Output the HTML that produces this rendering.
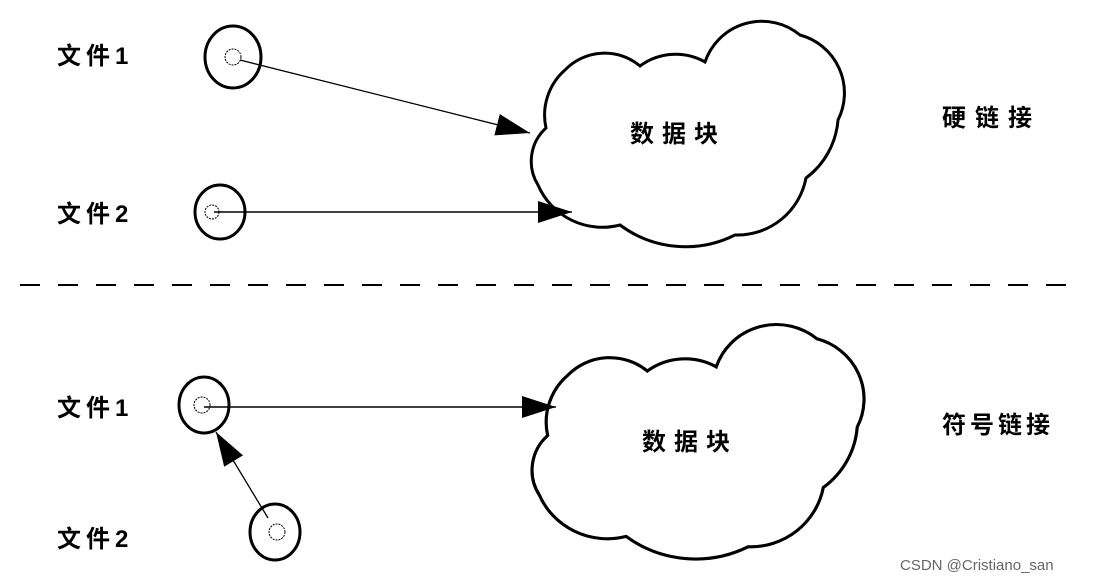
<!DOCTYPE html>
<html><head><meta charset="utf-8"><style>
html,body{margin:0;padding:0;background:#fff;}
svg{display:block;}
text{font-family:"Liberation Sans","WenQuanYi Zen Hei","Noto Sans CJK SC",sans-serif;font-weight:bold;fill:#000;}
</style></head><body>
<svg width="1099" height="582" viewBox="0 0 1099 582" xmlns="http://www.w3.org/2000/svg">
<defs>
<marker id="ar" markerWidth="34" markerHeight="22" refX="34" refY="11" orient="auto" markerUnits="userSpaceOnUse">
<path d="M0,0 L34,11 L0,22 Z" fill="#000"/>
</marker>
<path id="cloud" d="M546,128 A60,60 0 0 1 565,70 A55,55 0 0 1 640,66 A60,60 0 0 1 705,62 A60,60 0 0 1 800,35 A60,60 0 0 1 838,120 A80,80 0 0 1 806,178 A70,70 0 0 1 735,235 A110,110 0 0 1 620,225 A70,70 0 0 1 538,185 A45,45 0 0 1 546,128 Z" fill="#fff" stroke="#000" stroke-width="3"/>
</defs>
<use href="#cloud"/>
<text x="630" y="142" font-size="24" letter-spacing="8">数据块</text>
<text x="942" y="126" font-size="24" letter-spacing="9">硬链接</text>
<text x="57" y="64" font-size="24" letter-spacing="5">文件1</text>
<text x="57" y="222" font-size="24" letter-spacing="5">文件2</text>
<ellipse cx="233" cy="57" rx="28" ry="31" fill="none" stroke="#000" stroke-width="3"/>
<circle cx="233" cy="57" r="8" fill="none" stroke="#000" stroke-width="1" stroke-dasharray="2,1"/>
<ellipse cx="220" cy="212" rx="25" ry="27" fill="none" stroke="#000" stroke-width="3"/>
<circle cx="212" cy="212" r="7" fill="none" stroke="#000" stroke-width="1" stroke-dasharray="2,1"/>
<line x1="240" y1="60" x2="530" y2="133" stroke="#000" stroke-width="1.3" marker-end="url(#ar)"/>
<line x1="214" y1="212" x2="572" y2="212" stroke="#000" stroke-width="1.5" marker-end="url(#ar)"/>
<line x1="20" y1="285" x2="1078" y2="285" stroke="#000" stroke-width="2" stroke-dasharray="20,18"/>
<g transform="translate(518,318) scale(1.06,1.04) translate(-518,-15)"><use href="#cloud"/></g>
<text x="642" y="450" font-size="24" letter-spacing="8">数据块</text>
<text x="942" y="433" font-size="24" letter-spacing="4">符号链接</text>
<text x="57" y="416" font-size="24" letter-spacing="5">文件1</text>
<text x="57" y="547" font-size="24" letter-spacing="5">文件2</text>
<ellipse cx="204" cy="405" rx="25" ry="28" fill="none" stroke="#000" stroke-width="3"/>
<circle cx="202" cy="405" r="8" fill="none" stroke="#000" stroke-width="1" stroke-dasharray="2,1"/>
<ellipse cx="275" cy="532" rx="25" ry="28" fill="none" stroke="#000" stroke-width="3"/>
<circle cx="277" cy="532" r="8" fill="none" stroke="#000" stroke-width="1" stroke-dasharray="2,1"/>
<line x1="204" y1="407" x2="556" y2="407" stroke="#000" stroke-width="1.5" marker-end="url(#ar)"/>
<line x1="268" y1="518" x2="216" y2="432" stroke="#000" stroke-width="1.3" marker-end="url(#ar)"/>
<text x="900" y="570" font-size="15" style="font-weight:normal;fill:#666;">CSDN @Cristiano_san</text>
</svg>
</body></html>
